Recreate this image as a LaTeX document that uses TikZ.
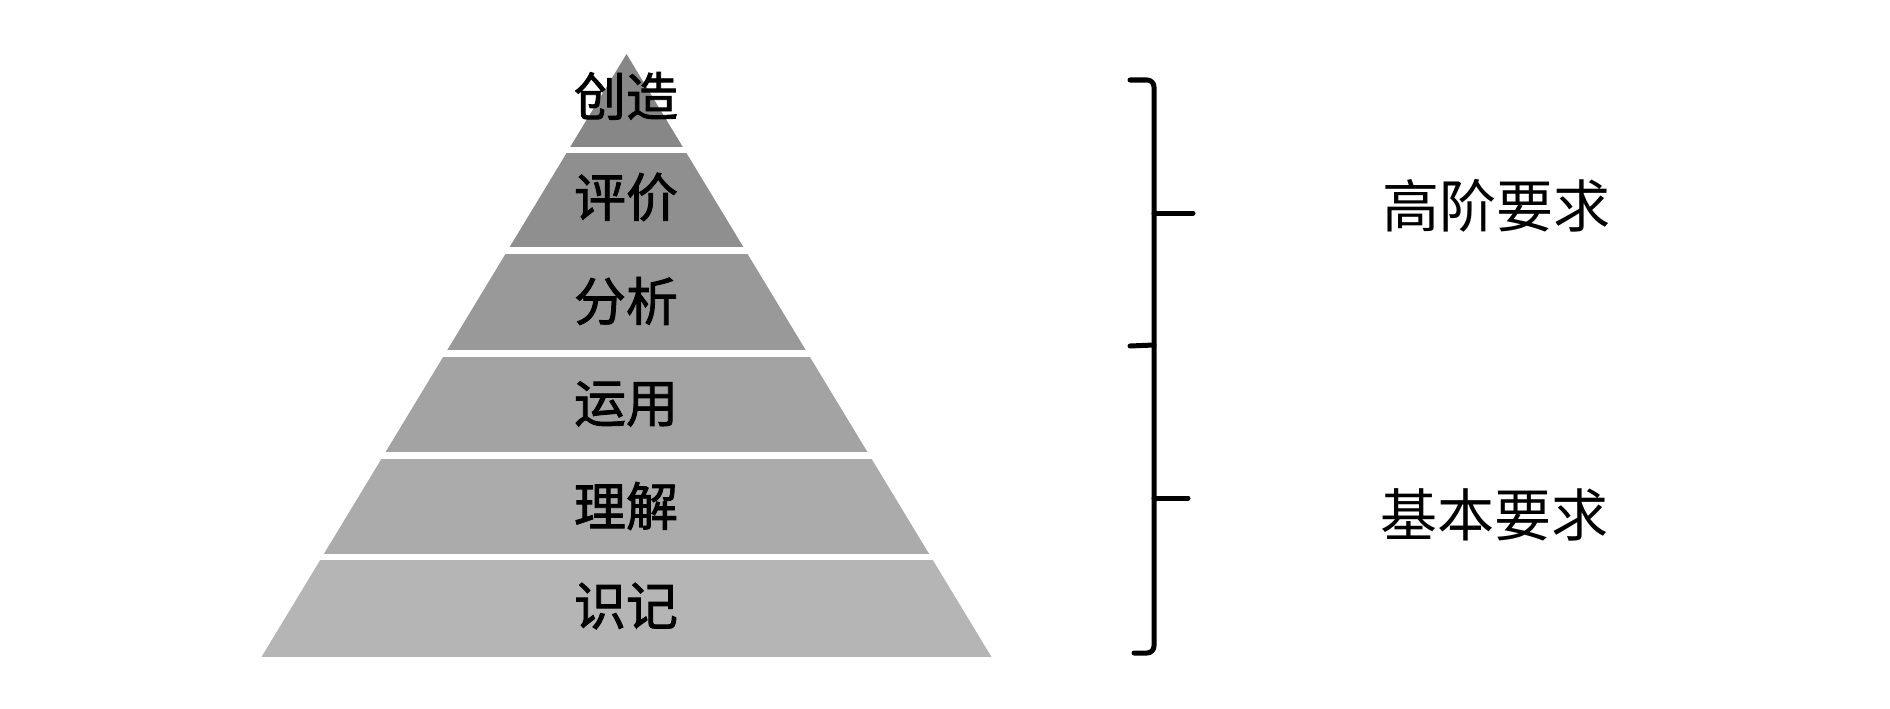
\documentclass[tikz,border=0pt]{standalone}
\usepackage{fontspec}
\newfontfamily\cjk{Noto Sans CJK SC}
\newfontfamily\cjkmed[FakeBold=1.6]{Noto Sans CJK SC}
\begin{document}
\begin{tikzpicture}[x=1pt,y=-1pt,
  lvl/.style={font=\cjkmed\fontsize{52}{52}\selectfont, text=black, inner sep=0pt, anchor=center},
  req/.style={font=\cjk\fontsize{57}{57}\selectfont, text=black, inner sep=0pt, anchor=center},
  brace/.style={line width=5pt, line cap=round, line join=round, black}]
\useasboundingbox (0,0) rectangle (1890,709);
\fill[white] (0,0) rectangle (1890,709);
% pyramid
\coordinate (apex) at (626.5,54);
\coordinate (bl) at (261.5,657);
\coordinate (br) at (991.5,657);
\begin{scope}
  \clip (apex) -- (br) -- (bl) -- cycle;
  \fill[black!47] (200,40) rectangle (1050,147);
  \fill[black!44] (200,153) rectangle (1050,247);
  \fill[black!40] (200,254) rectangle (1050,350);
  \fill[black!36] (200,357) rectangle (1050,452);
  \fill[black!33] (200,459) rectangle (1050,554);
  \fill[black!29] (200,560) rectangle (1050,657);
\end{scope}
\node[lvl] (l1) at (626,96) {创造};
\node[lvl] (l2) at (626,197) {评价};
\node[lvl] (l3) at (626,301) {分析};
\node[lvl] (l4) at (626,404) {运用};
\node[lvl] (l5) at (626,506) {理解};
\node[lvl] (l6) at (626,606) {识记};
% brace
\coordinate (btop) at (1130,80);
\coordinate (bbot) at (1134,653);
\coordinate (t1) at (1193,213);
\coordinate (c1) at (1154,213);
\coordinate (t2) at (1188,498);
\coordinate (c2) at (1154,498);
\coordinate (j) at (1154,345);
\coordinate (jt) at (1130,346);
\draw[brace, rounded corners=7pt] (btop) -- (1154,80) -- (1154,653) -- (bbot);
\draw[brace] (c1) -- (t1);
\draw[brace] (c2) -- (t2);
\draw[brace] (jt) -- (j);
\node[req] (hi) at (1496,206) {高阶要求};
\node[req] (lo) at (1494,515) {基本要求};
\end{tikzpicture}
\end{document}
